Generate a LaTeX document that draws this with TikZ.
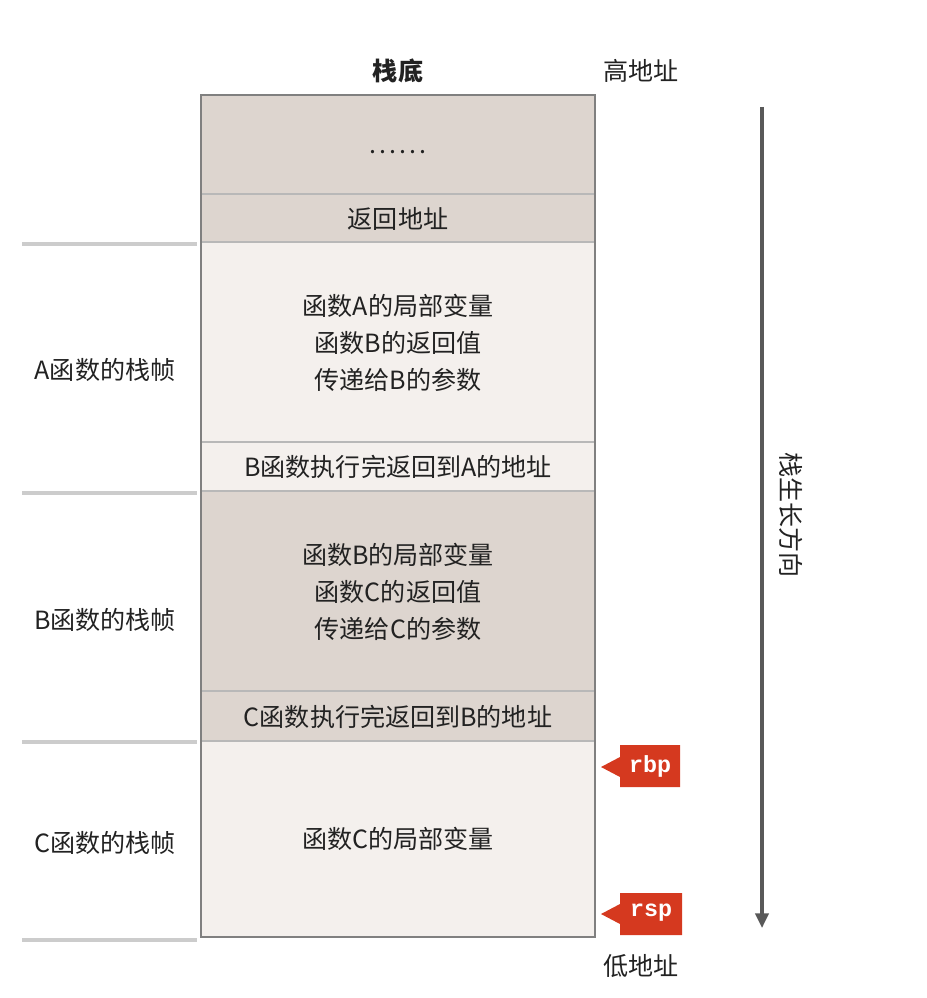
\documentclass[tikz,border=0pt]{standalone}
\usepackage{fontspec}
\setmainfont{Noto Sans CJK SC}
\newfontfamily\tagfont{Liberation Mono}
\usetikzlibrary{arrows.meta}
\definecolor{celldark}{HTML}{DDD5CF}
\definecolor{celllight}{HTML}{F4F0ED}
\definecolor{tagred}{HTML}{D5391F}
\definecolor{txt}{HTML}{222222}
\begin{document}
\begin{tikzpicture}[x=0.75pt,y=-0.75pt,
  lbl/.style={font=\fontsize{18.8}{22}\selectfont, text=txt, inner sep=0pt, align=center},
  multi/.style={lbl, align=center, execute at begin node=\setlength{\baselineskip}{28pt}},
  divider/.style={draw=black!28, line width=1.2pt},
  frameline/.style={draw=black!20, line width=2.6pt},
  tagshape/.style={fill=tagred, draw=none},
  tagtext/.style={font=\tagfont\bfseries\fontsize{17.5}{20}\selectfont, text=white, inner sep=0pt}]
\useasboundingbox (0,0) rectangle (926,998);
% cell fills
\fill[celldark] (201,95) rectangle (595,242);
\fill[celllight] (201,242) rectangle (595,491);
\fill[celldark] (201,491) rectangle (595,741);
\fill[celllight] (201,741) rectangle (595,937);
% dividers
\foreach \yy in {194,242,442,491,691,741}
  \draw[divider] (201,\yy) -- (595,\yy);
\draw[draw=black!50, line width=1.6pt] (201,95) rectangle (595,937);
% cell texts
\node[lbl] (dots) at (398,152) {.\kern2.2pt.\kern2.2pt.\kern2.2pt.\kern2.2pt.\kern2.2pt.};
\node[lbl] (ret) at (398,219) {返回地址};
\node[multi] (alocal) at (398,343) {函数A的局部变量\\函数B的返回值\\传递给B的参数};
\node[lbl] (aret) at (398,467) {B函数执行完返回到A的地址};
\node[multi] (blocal) at (398,592) {函数B的局部变量\\函数C的返回值\\传递给C的参数};
\node[lbl] (bret) at (398,717) {C函数执行完返回到B的地址};
\node[lbl] (clocal) at (398,839) {函数C的局部变量};
% top/bottom labels
\node[lbl, font=\bfseries\fontsize{18.8}{22}\selectfont] (bottom) at (398,71) {栈底};
\node[lbl] (high) at (641,71) {高地址};
\node[lbl] (low) at (641,966) {低地址};
% frame lines on left
\foreach \yy in {244,493,742,940}
  \draw[frameline] (22,\yy) -- (197,\yy);
\node[lbl] (fa) at (105,370) {A函数的栈帧};
\node[lbl] (fb) at (105,620) {B函数的栈帧};
\node[lbl] (fc) at (105,843) {C函数的栈帧};
% growth arrow
\coordinate (gtop) at (762,107);
\coordinate (gbot) at (762,928);
\draw[draw=black!65, line width=2.4pt, -{Triangle[length=11pt,width=10pt]}] (gtop) -- (gbot);
\node[lbl, rotate=-90] (grow) at (791,515) {栈生长方向};
% rbp tag
\path[tagshape] (601,767) -- (620,757) -- (620,745) -- (680,745) -- (680,787) -- (620,787) -- (620,777) -- cycle;
\node[tagtext] (rbp) at (650,766) {rbp};
% rsp tag
\path[tagshape] (601,914) -- (620,904) -- (620,893) -- (682,893) -- (682,935) -- (620,935) -- (620,924) -- cycle;
\node[tagtext] (rsp) at (651,913) {rsp};
\end{tikzpicture}
\end{document}
